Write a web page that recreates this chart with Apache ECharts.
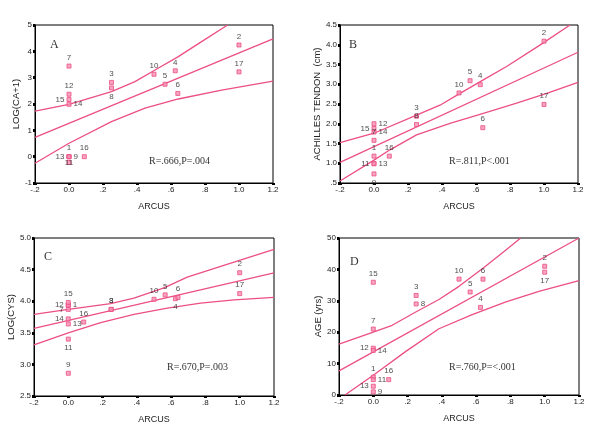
<!DOCTYPE html>
<html><head><meta charset="utf-8">
<script src="https://cdn.jsdelivr.net/npm/echarts@6/dist/echarts.min.js"></script>
<style>html,body{margin:0;padding:0;background:#fff}#c{width:600px;height:439px}</style>
</head><body><div id="c"></div>
<script>
// ---- data ----
const patients = [1,2,3,4,5,6,7,8,9,10,11,12,13,14,15,16,17];
const arcus    = [0,1.0,0.25,0.625,0.565,0.64,0,0.25,0,0.5,0,0,0,0,0,0.09,1.0];
const logCA    = [0.0,4.24,2.82,3.26,2.75,2.40,3.44,2.61,0.0,3.13,-0.22,2.37,0.0,1.99,2.17,0.0,3.22];
const achilles = [1.18,4.09,2.19,2.99,3.09,1.90,1.58,1.98,0.73,2.78,0.99,2.00,0.99,1.79,1.88,1.18,2.49];
const logCYS   = [3.94,4.45,3.87,4.04,4.10,4.06,3.87,3.87,2.86,4.03,3.40,3.94,3.64,3.72,3.98,3.67,4.12];
const age      = [5.7,41.0,31.7,27.9,32.8,36.9,21.0,29.0,1.0,36.9,4.9,14.9,2.8,14.2,35.9,4.9,39.1];

const fitA = [[-0.2,0.73],[1.2,4.47]];
const upA  = [[-0.2,1.73],[0,1.99],[0.25,2.47],[0.388,2.85],[0.506,3.29],[0.643,3.80],[0.78,4.37],[0.933,5.0]];
const loA  = [[-0.2,-0.25],[0,0.51],[0.25,1.33],[0.447,1.84],[0.643,2.19],[0.898,2.53],[1.2,2.87]];
const fitB = [[-0.2,1.02],[1.2,3.81]];
const upB  = [[-0.2,1.52],[0,1.76],[0.25,2.22],[0.388,2.47],[0.506,2.77],[0.643,3.11],[0.78,3.45],[0.976,3.99],[1.153,4.5]];
const loB  = [[-0.2,0.55],[0,1.08],[0.094,1.34],[0.25,1.72],[0.447,2.01],[0.643,2.26],[0.839,2.52],[1.016,2.77],[1.2,3.05]];
const fitC = [[-0.2,3.57],[1.2,4.45]];
const upC  = [[-0.2,3.79],[0,3.87],[0.247,3.96],[0.383,4.05],[0.558,4.21],[0.694,4.38],[0.889,4.55],[1.2,4.82]];
const loC  = [[-0.2,3.31],[0,3.50],[0.189,3.66],[0.383,3.79],[0.578,3.89],[0.772,3.97],[0.967,4.02],[1.2,4.06]];
const fitD = [[-0.2,7.7],[1.2,50]];
const upD  = [[-0.2,16.2],[0,20.0],[0.11,22.2],[0.253,26.6],[0.383,30.4],[0.5,34.6],[0.636,40.2],[0.752,45.2],[0.86,50]];
const loD  = [[-0.165,0],[0,6.3],[0.19,13.9],[0.383,21.1],[0.577,25.6],[0.77,29.6],[0.966,33.0],[1.2,36.4]];

const xTicks  = ['-.2','0.0','.2','.4','.6','.8','1.0','1.2'];
const yTicksA = ['-1','0','1','2','3','4','5'];
const yTicksB = ['.5','1.0','1.5','2.0','2.5','3.0','3.5','4.0','4.5'];
const yTicksC = ['2.5','3.0','3.5','4.0','4.5','5.0'];
const yTicksD = ['0','10','20','30','40','50'];

// ---- label placement (style) ----
const labPosA = ['top','top','top','top','top','top','top','bottom','right','top','inside','top','left','right','left','top','top'];
const labPosB = ['top','top','top','top','top','top','top','top','bottom','top','left','right','right','right','left','top','top'];
const labPosC = ['right','top','top','bottom','top','top','left','top','top','top','bottom','left','right','left','top','top','top'];
const labPosD = ['top','top','top','top','top','top','top','right','right','top','right','left','left','right','top','top','bottom'];

const PINK = '#ec4f86';
const grids = [
  {left:35, top:25, width:238, height:158},
  {left:340, top:25, width:238, height:158},
  {left:34, top:238, width:240, height:158},
  {left:339, top:238, width:240, height:157}
];
const panels = [
  {y:logCA, fit:fitA, up:upA, lo:loA, ticks:yTicksA, min:-1, max:5, iv:1, pos:labPosA, name:'LOG(CA+1)', gap:11},
  {y:achilles, fit:fitB, up:upB, lo:loB, ticks:yTicksB, min:0.5, max:4.5, iv:0.5, pos:labPosB, name:'ACHILLES TENDON  (cm)', gap:15},
  {y:logCYS, fit:fitC, up:upC, lo:loC, ticks:yTicksC, min:2.5, max:5.0, iv:0.5, pos:labPosC, name:'LOG(CYS)', gap:12},
  {y:age, fit:fitD, up:upD, lo:loD, ticks:yTicksD, min:0, max:50, iv:10, pos:labPosD, name:'AGE (yrs)', gap:15}
];

const FONT = 'Liberation Sans, Arial, sans-serif';
const SERIF = 'Liberation Serif, Times New Roman, serif';
const option = {
  backgroundColor:'#fff',
  animation:false,
  grid: grids.map(g => Object.assign({show:true, borderColor:'#000', borderWidth:1, backgroundColor:'#fff'}, g)),
  xAxis: panels.map((p,i) => ({
    type:'value', gridIndex:i, min:-0.2, max:1.2, interval:0.2,
    name:'ARCUS', nameLocation:'middle', nameGap:19,
    nameTextStyle:{fontFamily:FONT, fontSize:9, color:'#222'},
    axisLine:{show:true, onZero:false, lineStyle:{color:'#000', width:1}},
    axisTick:{show:true, length:2, lineStyle:{color:'#000', width:3}},
    axisLabel:{fontFamily:FONT, fontSize:8, color:'#222', margin:3,
      formatter: v => xTicks[Math.round((v+0.2)/0.2)]},
    splitLine:{show:false}
  })),
  yAxis: panels.map((p,i) => ({
    type:'value', gridIndex:i, min:p.min, max:p.max, interval:p.iv,
    name:p.name, nameLocation:'middle', nameGap:p.gap,
    nameTextStyle:{fontFamily:FONT, fontSize:9.5, color:'#222'},
    axisLine:{show:true, onZero:false, lineStyle:{color:'#000', width:1}},
    axisTick:{show:true, length:2, lineStyle:{color:'#000', width:3}},
    axisLabel:{fontFamily:FONT, fontSize:8, color:'#222', margin:3,
      formatter: v => p.ticks[Math.round((v-p.min)/p.iv)]},
    splitLine:{show:false}
  })),
  series: []
};

panels.forEach((p,i) => {
  const lineBase = {type:'line', xAxisIndex:i, yAxisIndex:i, symbol:'none', clip:true, smooth:false,
    lineStyle:{color:PINK, width:1.3, join:'round'}, silent:true, z:2};
  option.series.push(Object.assign({}, lineBase, {data:p.fit}));
  option.series.push(Object.assign({}, lineBase, {data:p.up}));
  option.series.push(Object.assign({}, lineBase, {data:p.lo}));
  option.series.push({
    type:'scatter', xAxisIndex:i, yAxisIndex:i, symbol:'rect', symbolSize:4, z:3,
    itemStyle:{color:'#f58fb2', borderColor:PINK, borderWidth:1},
    data: patients.map((id,k) => ({
      value:[arcus[k], p.y[k]],
      label:{show:true, position:p.pos[k], distance:2, formatter:String(id),
        fontFamily:FONT, fontSize:8, color:'#222'}
    }))
  });
});

option.graphic = [
  {type:'text', left:50, top:39, style:{text:'A', font:'12px '+SERIF, fill:'#333'}},
  {type:'text', left:349, top:39, style:{text:'B', font:'12px '+SERIF, fill:'#333'}},
  {type:'text', left:44, top:251, style:{text:'C', font:'12px '+SERIF, fill:'#333'}},
  {type:'text', left:350, top:256, style:{text:'D', font:'12px '+SERIF, fill:'#333'}},
  {type:'text', left:149, top:156, style:{text:'R=.666,P=.004', font:'10px '+SERIF, fill:'#333'}},
  {type:'text', left:449, top:156, style:{text:'R=.811,P<.001', font:'10px '+SERIF, fill:'#333'}},
  {type:'text', left:167, top:362, style:{text:'R=.670,P=.003', font:'10px '+SERIF, fill:'#333'}},
  {type:'text', left:449, top:362, style:{text:'R=.760,P=<.001', font:'10px '+SERIF, fill:'#333'}}
];

const chart = echarts.init(document.getElementById('c'), null, {renderer:'canvas'});
chart.setOption(option);
</script>
</body></html>
